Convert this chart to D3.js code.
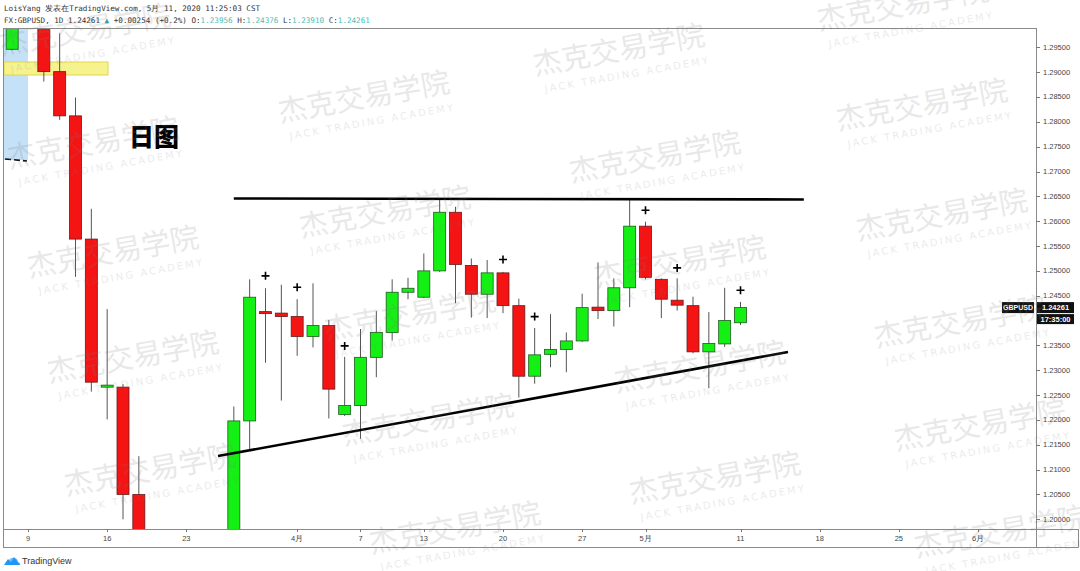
<!DOCTYPE html>
<html><head><meta charset="utf-8">
<script src="https://cdn.jsdelivr.net/npm/d3@7"></script>
<style>html,body{margin:0;padding:0;background:#fff;}svg{display:block;}</style>
</head><body>
<script>
// ---------- data ----------
const dates = ["2020-03-06","2020-03-09","2020-03-10","2020-03-11","2020-03-12","2020-03-13","2020-03-16","2020-03-17","2020-03-18","2020-03-19","2020-03-20","2020-03-23","2020-03-24","2020-03-25","2020-03-26","2020-03-27","2020-03-30","2020-03-31","2020-04-01","2020-04-02","2020-04-03","2020-04-06","2020-04-07","2020-04-08","2020-04-09","2020-04-10","2020-04-13","2020-04-14","2020-04-15","2020-04-16","2020-04-17","2020-04-20","2020-04-21","2020-04-22","2020-04-23","2020-04-24","2020-04-27","2020-04-28","2020-04-29","2020-04-30","2020-05-01","2020-05-04","2020-05-05","2020-05-06","2020-05-07","2020-05-08","2020-05-11"];
const opens  = [1.2946,1.3047,1.3108,1.2901,1.2812,1.2564,1.2266,1.2266,1.2050,1.1750,1.1590,1.1650,1.1520,1.1760,1.1880,1.2198,1.2418,1.2415,1.2408,1.2368,1.2390,1.2211,1.2229,1.2326,1.2376,1.2457,1.2447,1.2500,1.2618,1.2511,1.2453,1.2496,1.2430,1.2288,1.2332,1.2342,1.2359,1.2427,1.2420,1.2466,1.2590,1.2483,1.2441,1.2430,1.2337,1.2353,1.23956];
const highs  = [1.3060,1.3200,1.3150,1.2978,1.2849,1.2625,1.2423,1.2272,1.2127,1.1800,1.1800,1.1720,1.1800,1.1930,1.2227,1.2483,1.2465,1.2472,1.2443,1.2475,1.2401,1.2327,1.2383,1.2419,1.2483,1.2486,1.2535,1.2643,1.2629,1.2525,1.2522,1.2498,1.2444,1.2385,1.2413,1.2376,1.2454,1.2517,1.2485,1.2643,1.2599,1.2485,1.2485,1.2448,1.2417,1.2466,1.24376];
const lows   = [1.2944,1.3000,1.2881,1.2804,1.2488,1.2257,1.2201,1.2000,1.1450,1.1410,1.1500,1.1450,1.1480,1.1700,1.1860,1.2139,1.2315,1.2239,1.2329,1.2346,1.2203,1.2208,1.2162,1.2286,1.2360,1.2443,1.2445,1.2498,1.2435,1.2406,1.2405,1.2415,1.2245,1.2273,1.2306,1.2296,1.2357,1.2403,1.2388,1.2427,1.2483,1.2405,1.2420,1.2334,1.2264,1.2347,1.23910];
const closes = [1.3047,1.3108,1.2901,1.2812,1.2564,1.2276,1.2270,1.2050,1.1750,1.1590,1.1650,1.1520,1.1760,1.1880,1.2198,1.2447,1.2414,1.2408,1.2368,1.2390,1.2262,1.2229,1.2326,1.2376,1.2457,1.2465,1.2500,1.2618,1.2513,1.2453,1.2496,1.2430,1.2288,1.2331,1.2342,1.2359,1.2426,1.2420,1.2466,1.2590,1.2487,1.2443,1.2431,1.2337,1.2354,1.2400,1.24261];

const markDates  = ["2020-03-30","2020-04-01","2020-04-06","2020-04-20","2020-04-22","2020-05-01","2020-05-05","2020-05-11"];
const markPrices = [1.2490,1.2467,1.2349,1.2523,1.2408,1.2622,1.2506,1.2461];

const resistance = {dates:["2020-03-26","2020-05-15"], prices:[1.26457,1.26437]};
const support    = {dates:["2020-03-25","2020-05-14"], prices:[1.21273,1.23367]};

const tickDates  = ["2020-03-09","2020-03-16","2020-03-23","2020-04-01","2020-04-07","2020-04-13","2020-04-20","2020-04-27","2020-05-01","2020-05-11","2020-05-18","2020-05-25","2020-06-01"];
const tickLabels = ["9","16","23","4月","7","13","20","27","5月","11","18","25","6月"];
const priceTicks = d3.range(0,20).map(i => +(1.200 + i*0.005).toFixed(3));

const header1 = "LoisYang 发表在TradingView.com, 5月 11, 2020 11:25:03 CST";
const symbol = "GBPUSD", lastPrice = "1.24261", countdown = "17:35:00";

// watermark centres
const wmX = [85,93,113,133,150, 364,385,410,428,455, 619,655,680,700,715, 903,922,942,960,980,1000];
const wmY = [30,143,252,357,470, 97,212,315,420,528, 50,157,262,367,478, 5,105,215,322,425,532];

// ---------- layout ----------
const W=1080,H=571;
const L=3, T=28, R=1036, B=529, B2=547, RE=1078;
const svg = d3.select("body").append("svg").attr("width",W).attr("height",H);
svg.append("rect").attr("width",W).attr("height",H).attr("fill","#fff");

// trading-day index scale
const allDays = d3.utcDays(new Date(Date.UTC(2020,2,2)), new Date(Date.UTC(2020,5,10)))
  .filter(d => d.getUTCDay()!==0 && d.getUTCDay()!==6)
  .map(d => d3.utcFormat("%Y-%m-%d")(d));
const idx = s => allDays.indexOf(s);
const xi = d3.scaleLinear().domain([idx("2020-03-09"), idx("2020-06-01")]).range([28,978]);
const x = s => xi(idx(s));
const bw = 12;
const y = d3.scaleLinear().domain([1.200,1.295]).range([519.3,47.3]);

svg.append("defs").append("clipPath").attr("id","plot")
  .append("rect").attr("x",L).attr("y",T).attr("width",R-L).attr("height",B-T);
const plot = svg.append("g").attr("clip-path","url(#plot)");

// drawings behind
plot.append("rect").attr("x",4).attr("y",T).attr("width",24).attr("height",160-T).attr("fill","#c5e1f8");
plot.append("line").attr("x1",5).attr("y1",159).attr("x2",27).attr("y2",161)
  .attr("stroke","#111").attr("stroke-width",1.6).attr("stroke-dasharray","6,3");
plot.append("rect").attr("x",4).attr("y",62).attr("width",104).attr("height",13)
  .attr("fill","#f6f38e").attr("stroke","#e0d650").attr("stroke-width",1);

// candles
const data = dates.map((d,i)=>({d,o:opens[i],h:highs[i],l:lows[i],c:closes[i]}));
const cg = plot.selectAll("g.c").data(data).join("g").attr("class","c");
cg.append("line").attr("x1",d=>x(d.d)).attr("x2",d=>x(d.d))
  .attr("y1",d=>y(d.h)).attr("y2",d=>y(d.l)).attr("stroke","#555").attr("stroke-width",1);
cg.append("rect").attr("x",d=>x(d.d)-bw/2).attr("width",bw)
  .attr("y",d=>y(Math.max(d.o,d.c)))
  .attr("height",d=>Math.max(2,Math.abs(y(d.o)-y(d.c))))
  .attr("fill",d=>d.c>=d.o?"#14f014":"#f41414")
  .attr("stroke",d=>d.c>=d.o?"#1d5a1d":"#6a1a1a").attr("stroke-width",0.8);

// trend lines
[resistance,support].forEach(t=>{
  plot.append("line").attr("x1",x(t.dates[0])).attr("y1",y(t.prices[0]))
    .attr("x2",x(t.dates[1])).attr("y2",y(t.prices[1]))
    .attr("stroke","#000").attr("stroke-width",2.6);
});

// plus marks
markDates.forEach((d,i)=>{
  const px=x(d), py=y(markPrices[i]);
  plot.append("path").attr("d",`M${px-4},${py}H${px+4}M${px},${py-4}V${py+4}`)
    .attr("stroke","#000").attr("stroke-width",1.6);
});

// 日图 label
svg.append("text").attr("x",129).attr("y",146).text("日图")
  .attr("font-family","Noto Sans CJK SC").attr("font-weight",900).attr("font-size",25).attr("fill","#000");

// frame
const fr = svg.append("g").attr("stroke","#8a8a8a").attr("stroke-width",1).attr("fill","none");
fr.append("path").attr("d",`M${L+.5},${T+.5}H${R+.5}M${L+.5},${T}V${B2+.5}M${R+.5},${T}V${B2+.5}M${L},${B+.5}H${RE+.5}M${L},${B2+.5}H${RE+.5}M${RE+.5},${B}V${B2+.5}`);

// right axis (labels hidden where the last-price tag sits)
const ly = y(+lastPrice);
const ra = svg.append("g");
priceTicks.forEach(p=>{
  ra.append("line").attr("x1",R).attr("x2",R+4).attr("y1",Math.round(y(p))+.5).attr("y2",Math.round(y(p))+.5).attr("stroke","#777");
  if (Math.abs(y(p) - (ly+5)) < 12) return;
  ra.append("text").attr("x",R+7).attr("y",y(p)+2.5).text(p.toFixed(5))
    .attr("font-family","Liberation Sans, Arial").attr("font-size",7.5).attr("fill","#444");
});
// price label
svg.append("rect").attr("x",1002).attr("y",ly-5.5).attr("width",32).attr("height",11).attr("fill","#111");
svg.append("text").attr("x",1018).attr("y",ly+2.6).attr("text-anchor","middle").text(symbol)
  .attr("font-family","Liberation Sans, Arial").attr("font-weight","bold").attr("font-size",7).attr("fill","#fff");
svg.append("rect").attr("x",R+1).attr("y",ly-5.5).attr("width",37).attr("height",11).attr("fill","#111");
svg.append("text").attr("x",R+19.5).attr("y",ly+2.6).attr("text-anchor","middle").text(lastPrice)
  .attr("font-family","Liberation Sans, Arial").attr("font-weight","bold").attr("font-size",7.5).attr("fill","#fff");
svg.append("rect").attr("x",R+1).attr("y",ly+6.5).attr("width",37).attr("height",10).attr("fill","#111");
svg.append("text").attr("x",R+19.5).attr("y",ly+14.2).attr("text-anchor","middle").text(countdown)
  .attr("font-family","Liberation Sans, Arial").attr("font-weight","bold").attr("font-size",7.5).attr("fill","#fff");

// bottom axis
tickDates.forEach((d,i)=>{
  const px = Math.round(x(d))+.5;
  svg.append("line").attr("x1",px).attr("x2",px).attr("y1",B).attr("y2",B+3).attr("stroke","#777");
  svg.append("text").attr("x",x(d)).attr("y",541).attr("text-anchor","middle").text(tickLabels[i])
    .attr("font-family","Liberation Sans, Arial").attr("font-size",7.5).attr("fill","#444");
});

// header
svg.append("text").attr("x",4).attr("y",11).text(header1)
  .attr("font-family","DejaVu Sans Mono").attr("font-size",7.6).attr("fill","#333");
const h2 = svg.append("text").attr("x",4).attr("y",23).attr("font-family","DejaVu Sans Mono").attr("font-size",7.6).attr("fill","#333");
[["FX:GBPUSD, 1D 1.24261 ","#333"],["▲","#26a69a"],[" +0.00254 (+0.2%) O:","#333"],["1.23956","#4cc0b5"],[" H:","#333"],["1.24376","#4cc0b5"],[" L:","#333"],["1.23910","#4cc0b5"],[" C:","#333"],["1.24261","#4cc0b5"]]
 .forEach(([t,c])=>h2.append("tspan").text(t).attr("fill",c));

// tradingview logo
const lg = svg.append("g").attr("transform","translate(4,555)");
lg.append("path").attr("d","M0,10 L4,4 L7,7 L10,2 L16,10 Z").attr("fill","#2196f3");
lg.append("path").attr("d","M2,10 Q1,6 5,6 Q6,2 10,3 Q14,3 14,7 Q17,8 16,10 Z").attr("fill","#2196f3").attr("opacity",0.6);
svg.append("text").attr("x",22).attr("y",564).text("TradingView")
  .attr("font-family","Liberation Sans, Arial").attr("font-size",9).attr("fill","#333");

// watermarks
const wm = svg.append("g").attr("pointer-events","none");
wmX.forEach((cx,i)=>{
  const g = wm.append("g").attr("transform",`translate(${cx},${wmY[i]}) rotate(-10)`);
  g.append("text").attr("text-anchor","middle").attr("y",10).text("杰克交易学院")
    .attr("font-family","Noto Sans CJK SC").attr("font-size",29).attr("fill","#7a7a7a").attr("opacity",0.17);
  g.append("text").attr("text-anchor","middle").attr("x",4).attr("y",29).text("JACK TRADING ACADEMY")
    .attr("font-family","DejaVu Sans").attr("font-size",10).attr("letter-spacing",2.2).attr("fill","#7a7a7a").attr("opacity",0.15);
});
</script>
</body></html>
